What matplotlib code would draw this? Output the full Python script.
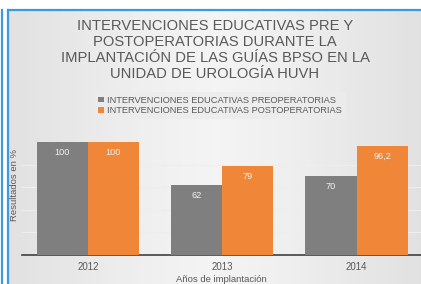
import matplotlib
matplotlib.use("Agg")
import matplotlib.pyplot as plt
import numpy as np
from matplotlib.lines import Line2D

years = ["2012", "2013", "2014"]
pre = [100, 62, 70]
post = [100, 79, 96.2]
pre_labels = ["100", "62", "70"]
post_labels = ["100", "79", "96,2"]
series_names = ["INTERVENCIONES EDUCATIVAS PREOPERATORIAS",
                "INTERVENCIONES EDUCATIVAS POSTOPERATORIAS"]
title = ("INTERVENCIONES EDUCATIVAS PRE Y\nPOSTOPERATORIAS DURANTE LA\n"
         "IMPLANTACIÓN DE LAS GUÍAS BPSO EN LA\nUNIDAD DE UROLOGÍA HUVH")

W, H = 421, 284
fig = plt.figure(figsize=(W / 100, H / 100), dpi=100)
fig.patch.set_facecolor("white")
plt.rcParams['font.family'] = ['Liberation Sans', 'DejaVu Sans']

# panel background with subtle gradient
bg = fig.add_axes([8 / W, 0, 1 - 8 / W, 1 - 10 / H], zorder=0)
grad = np.linspace(0, 1, 200)
xx = 1 - np.abs(grad - 0.5) * 2
img = np.tile(xx, (50, 1))
bg.imshow(img, cmap="Greys_r", vmin=-7.0, vmax=1.8, aspect="auto",
          extent=[0, 1, 0, 1])
bg.set_xlim(0, 1); bg.set_ylim(0, 1)
bg.axis("off")

# blue frame lines
fig.add_artist(Line2D([8 / W, 1.0], [1 - 10 / H, 1 - 10 / H], color="#3c9be0", lw=1.6,
                      transform=fig.transFigure, zorder=5))
fig.add_artist(Line2D([7.5 / W, 7.5 / W], [0, 1 - 10 / H], color="#3c9be0", lw=1.6,
                      transform=fig.transFigure, zorder=5))
fig.add_artist(Line2D([1.5 / W, 1.5 / W], [0, 1 - 10 / H], color="#3c9be0", lw=1.6,
                      transform=fig.transFigure, zorder=5))

txtc = "#595959"
fig.text(215 / W, 1 - 50 / H, title, ha="center", va="center", fontsize=10.6,
         color=txtc, linespacing=1.2)

ax = fig.add_axes([22 / W, 29 / H, 1 - 22 / W, (255 - 142) / H], zorder=2)
ax.patch.set_alpha(0)
x = np.arange(len(years))
w = 0.38
b1 = ax.bar(x - w / 2, pre, w, color="#7f7f7f", label=series_names[0], zorder=3)
b2 = ax.bar(x + w / 2, post, w, color="#ef8638", label=series_names[1], zorder=3)
ax.set_xlim(-0.49, 2.48)
ax.set_ylim(0, 100)
for bars, labs in ((b1, pre_labels), (b2, post_labels)):
    for r, lab in zip(bars, labs):
        ax.annotate(lab, (r.get_x() + r.get_width() / 2, r.get_height()),
                    xytext=(0, -7.5), textcoords="offset points",
                    ha="center", va="center", fontsize=6.6, color="#f2f2f2", zorder=4)
ax.set_yticks([20, 40, 60, 80])
ax.yaxis.grid(True, color="#eeeeee", lw=0.8, zorder=1)
ax.tick_params(axis="y", length=0, labelleft=False)
ax.set_xticks(x)
ax.set_xticklabels(years, fontsize=7, color=txtc)
ax.tick_params(axis="x", length=0, pad=5)
for s in ("top", "right", "left"):
    ax.spines[s].set_visible(False)
ax.spines["bottom"].set_color("#404040")
ax.spines["bottom"].set_linewidth(1.2)
ax.set_xlabel("Años de implantación", fontsize=6.8, color=txtc, labelpad=2.5)
ax.set_ylabel("Resultados en %", fontsize=6.8, color=txtc)
ax.yaxis.set_label_coords(-0.008, 0.62)

leg = fig.legend(handles=[b1, b2], labels=series_names, loc="center",
                 bbox_to_anchor=(220 / W, 1 - 105.5 / H), ncol=1, frameon=True,
                 fontsize=6.7, handlelength=0.6, handleheight=0.6, handletextpad=0.4,
                 labelspacing=0.15, borderpad=0.4, fancybox=False)
leg.get_frame().set_facecolor("#ececec")
leg.get_frame().set_edgecolor("none")
leg.get_frame().set_alpha(0.8)
for t in leg.get_texts():
    t.set_color(txtc)

fig.savefig("out.png", dpi=100)
